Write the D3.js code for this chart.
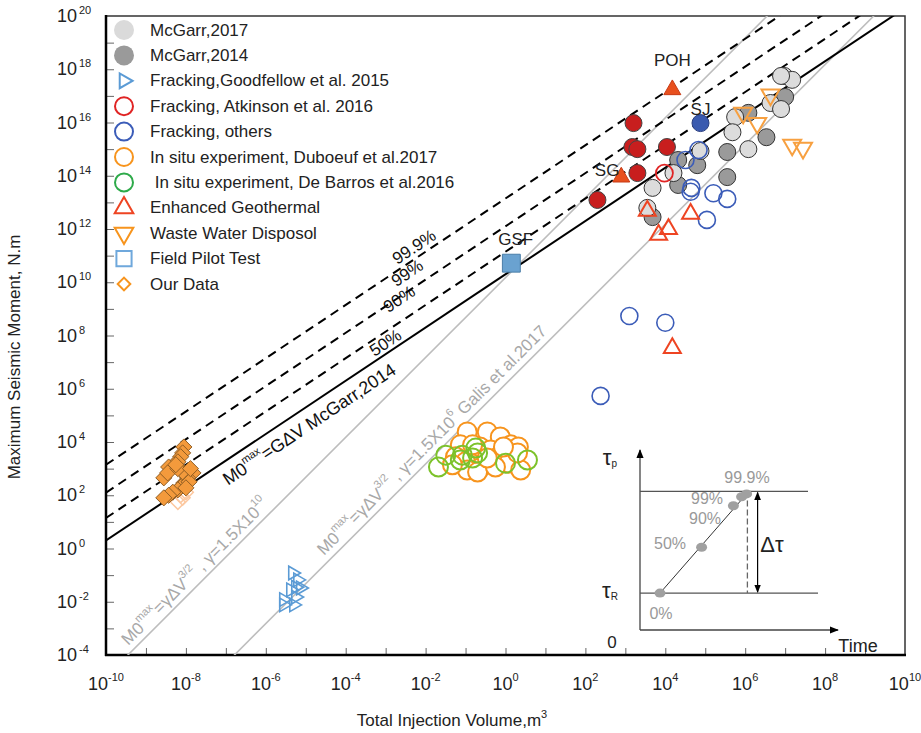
<!DOCTYPE html>
<html>
<head>
<meta charset="utf-8">
<script src="https://cdn.jsdelivr.net/npm/d3@7"></script>
<style>
  body { margin: 0; background: #fff; }
  svg { font-family: "Liberation Sans", Arial, sans-serif; }
</style>
</head>
<body>
<svg id="chart" width="921" height="733"></svg>
<script>
// ---- data: [injection volume m3, max seismic moment N.m] ----
const mcGarr2017 = [[9.5e6, 5.6e17], [1.5e7, 4e17], [7.9e6, 5.6e17], [4.3e6, 5.4e16], [7.9e6, 3.2e16],
  [5.6e5, 1.6e16], [4.8e5, 4.3e15], [1.2e6, 1e15], [7.6e4, 8.5e14], [1.6e4, 1.26e14], [4.8e3, 3.5e13], [3.55e3, 6.2e12]];
const mcGarr2014 = [[1e7, 9.1e16], [1.2e6, 2.3e16], [3.4e6, 2.8e15], [3.55e5, 7.8e14], [3.55e5, 8.9e13],
  [6.3e4, 2.5e14], [2.1e4, 3.9e14], [2.1e4, 4.5e13], [4.8e3, 2.8e12]];
const atkinsonFilled = [[1.6e3, 9.5e15], [1.5e3, 1.2e15], [2e3, 1e15], [1.1e4, 1.2e15], [2e3, 1.26e14], [2e2, 1.23e13]];
const atkinsonOpen = [[9.5e3, 1.26e14]];
const frackingSJ = [[7.6e4, 9.5e15]];
const frackingOthers = [[6.8e4, 9.3e14], [3.2e4, 3.9e14], [4.5e4, 3.5e13], [4.3e4, 2.5e13], [1.6e5, 2.2e13],
  [3.55e5, 1.35e13], [1.1e5, 2.2e12], [1.26e3, 5.4e8], [1e4, 3e8], [2.4e2, 5.4e5]];
const geothermal = [[3.55e3, 4.8e12], [4.3e4, 3.7e12], [1.2e4, 1e12], [6.8e3, 6e11], [1.5e4, 3.4e7]];
const geothermalNamed = [[1.5e4, 1.7e17], [7.9e2, 8.9e13]]; // POH, SG
const wasteWater = [[4.3e6, 1.1e17], [8.9e5, 2.3e16], [2e6, 9.5e15], [1.5e7, 1.45e15], [2.8e7, 1.1e15]];
const fieldPilot = [[1.4, 5.2e10]]; // GSF
const goodfellow = [[4.7e-6, 0.12], [6.3e-6, 0.066], [5.6e-6, 0.035], [4.2e-6, 0.028], [7.4e-6, 0.033],
  [5.6e-6, 0.015], [2.8e-6, 0.012], [5e-6, 7.6e-3], [2.8e-6, 7.6e-3]];
const ourData = [[8.9e-9, 6.5e3], [8.3e-9, 3.9e3], [7.4e-9, 2.8e3], [6.3e-9, 1.8e3], [5e-9, 1.4e3], [3.7e-9, 1.15e3],
  [2.8e-9, 450], [1.5e-8, 690], [1.1e-8, 450], [8.9e-9, 290], [7.4e-9, 200], [6.3e-9, 160], [4.7e-9, 130],
  [3.7e-9, 100], [2.8e-9, 80], [1.2e-8, 320], [1e-8, 190], [8.3e-9, 760], [3.5e-9, 690], [6.3e-9, 1000],
  [1.3e-8, 1000], [5.6e-9, 1400]];
const ourDataFaint = [[7.4e-9, 100], [6.3e-9, 56], [8.3e-9, 80], [1e-8, 130]];
const duboeuf = [[0.11, 24000], [0.35, 24000], [0.74, 15500], [0.074, 7800], [0.23, 6500], [1.35, 7800], [2.1, 6500],
  [0.42, 5000], [0.056, 2800], [0.1, 1800], [0.23, 1050], [0.66, 2800], [1.2, 1600], [2.4, 890], [0.11, 890],
  [0.2, 740], [2.0, 3900], [0.56, 1150], [0.047, 1400], [0.35, 2500], [0.89, 6500], [0.15, 7800]];
const deBarros = [[0.021, 1150], [0.032, 3200], [0.083, 3200], [0.18, 5900], [0.15, 2500], [0.2, 3900],
  [1.0, 1600], [3.55, 2100], [0.074, 2100]];

// fitted lines: M0 = c * V (McGarr) and M0 = gamma * V^1.5 (Galis)
const mcGarrCoef = 2e10;
const percentCoef = [1.4e11, 1.26e12, 1.4e13];
const galisGamma = [1.5e10, 1.5e6];
const percentLabels = [["99.9%", 5.2e-3, 2.1e11], ["99%", 3.5e-3, 2.2e10], ["90%", 2.2e-3, 2.3e9], ["50%", 1e-3, 5.2e7]];
const siteLabels = [["POH", 1.5e4, 2.2e18], ["SJ", 7.6e4, 3e16], ["SG", 3.5e2, 1.6e14], ["GSF", 1.8, 3.9e11]];

const xTickExp = [-10, -9, -8, -7, -6, -5, -4, -3, -2, -1, 0, 1, 2, 3, 4, 5, 6, 7, 8, 9, 10];
const xLabelExp = [-10, -8, -6, -4, -2, 0, 2, 4, 6, 8, 10];
const yTickExp = [-4, -3, -2, -1, 0, 1, 2, 3, 4, 5, 6, 7, 8, 9, 10, 11, 12, 13, 14, 15, 16, 17, 18, 19, 20];
const yLabelExp = [-4, -2, 0, 2, 4, 6, 8, 10, 12, 14, 16, 18, 20];

const legendItems = [
  { name: "McGarr,2017", type: "circle", fill: "#dadada", stroke: "none" },
  { name: "McGarr,2014", type: "circle", fill: "#9a9a9a", stroke: "none" },
  { name: "Fracking,Goodfellow et al. 2015", type: "triRight", fill: "none", stroke: "#5b9bd5" },
  { name: "Fracking, Atkinson et al. 2016", type: "circle", fill: "none", stroke: "#e02424" },
  { name: "Fracking, others", type: "circle", fill: "none", stroke: "#3b5cb8" },
  { name: "In situ experiment, Duboeuf et al.2017", type: "circle", fill: "none", stroke: "#f7941d" },
  { name: " In situ experiment, De Barros et al.2016", type: "circle", fill: "none", stroke: "#2eaa4a" },
  { name: "Enhanced Geothermal", type: "triUp", fill: "none", stroke: "#ee4422" },
  { name: "Waste Water Disposol", type: "triDown", fill: "none", stroke: "#f7941d" },
  { name: "Field Pilot Test", type: "square", fill: "none", stroke: "#6fa8dc" },
  { name: "Our Data", type: "diamond", fill: "none", stroke: "#f7941d" }
];

// inset schematic (0-100 box units)
const insetPct = [["0%", 10, 20.5], ["50%", 30.8, 46], ["90%", 46.7, 69], ["99%", 50.8, 74], ["99.9%", 53.3, 75.6]];
const insetPctText = [[10.5, 9], [15, 48], [32.5, 62], [33.5, 73], [53.5, 85]];
const tauR = 20.5, tauP = 77;

const svg = d3.select("#chart");
svg.append("rect").attr("width", 921).attr("height", 733).attr("fill", "#fff");

const x = d3.scaleLog().domain([1e-10, 1e10]).range([106, 905]);
const y = d3.scaleLog().domain([1e-4, 1e20]).range([655, 16]);

svg.append("defs").append("clipPath").attr("id", "plotclip")
  .append("rect").attr("x", 106).attr("y", 16).attr("width", 799).attr("height", 639);

// frame
svg.append("rect").attr("x", 106).attr("y", 16).attr("width", 799).attr("height", 639)
  .attr("fill", "none").attr("stroke", "#333").attr("stroke-width", 1.5);

// ticks
const xAxis = svg.append("g").attr("transform", "translate(0,655)")
  .call(d3.axisBottom(x).tickValues(xTickExp.map(e => Math.pow(10, e))).tickSizeInner(-7).tickSizeOuter(0).tickFormat(""));
const yAxis = svg.append("g").attr("transform", "translate(106,0)")
  .call(d3.axisLeft(y).tickValues(yTickExp.map(e => Math.pow(10, e))).tickSizeInner(-8).tickSizeOuter(0).tickFormat(""));
xAxis.select(".domain").remove();
yAxis.select(".domain").remove();
svg.selectAll(".tick line").attr("stroke", "#666");

svg.append("line").attr("x1", 106).attr("x2", 106).attr("y1", 15).attr("y2", 656).attr("stroke", "#000").attr("stroke-width", 2.5);
svg.append("line").attr("x1", 105).attr("x2", 906).attr("y1", 655).attr("y2", 655).attr("stroke", "#000").attr("stroke-width", 2.5);

// tick labels
xLabelExp.forEach(e => {
  const t = svg.append("text").attr("x", x(Math.pow(10, e))).attr("y", 690)
    .attr("text-anchor", "middle").attr("font-size", 18).attr("fill", "#222");
  t.append("tspan").text("10");
  t.append("tspan").attr("font-size", 11).attr("dy", -9).text(e);
});
yLabelExp.forEach(e => {
  const yy = y(Math.pow(10, e));
  svg.append("text").attr("x", 77).attr("y", yy + 6).attr("text-anchor", "end")
    .attr("font-size", 18).attr("fill", "#222").text("10");
  svg.append("text").attr("x", 79).attr("y", yy - 2).attr("font-size", 11).attr("fill", "#222").text(e);
});

// axis titles
const xt = svg.append("text").attr("x", 452).attr("y", 726).attr("text-anchor", "middle").attr("font-size", 17).attr("fill", "#222");
xt.append("tspan").text("Total Injection Volume,m");
xt.append("tspan").attr("font-size", 11).attr("dy", -8).text("3");
svg.append("text").attr("transform", "translate(20,357) rotate(-90)").attr("text-anchor", "middle")
  .attr("font-size", 17).attr("fill", "#222").text("Maximum Seismic Moment, N.m");

// reference lines
const plot = svg.append("g").attr("clip-path", "url(#plotclip)");
const vEnds = [1e-10, 1e10];
const line = d3.line().x(d => x(d[0])).y(d => y(d[1]));
galisGamma.forEach(g => {
  plot.append("path").attr("d", line(vEnds.map(v => [v, g * Math.pow(v, 1.5)])))
    .attr("fill", "none").attr("stroke", "#bdbdbd").attr("stroke-width", 1.6);
});
percentCoef.forEach(c => {
  plot.append("path").attr("d", line(vEnds.map(v => [v, c * v])))
    .attr("fill", "none").attr("stroke", "#000").attr("stroke-width", 2).attr("stroke-dasharray", "9,6");
});
plot.append("path").attr("d", line(vEnds.map(v => [v, mcGarrCoef * v])))
  .attr("fill", "none").attr("stroke", "#000").attr("stroke-width", 2);

const ang1 = Math.atan2(y(1e10) - y(1), x(1) - x(1e-10)) * 180 / Math.PI;
const ang15 = Math.atan2(y(1e15) - y(1), x(1) - x(1e-10)) * 180 / Math.PI;

function rotText(v, m, angle, color, size) {
  return svg.append("text")
    .attr("transform", `translate(${x(v)},${y(m)}) rotate(${angle})`)
    .attr("text-anchor", "middle").attr("dominant-baseline", "central")
    .attr("font-size", size).attr("fill", color);
}
percentLabels.forEach(p => rotText(p[1], p[2], ang1, "#111", 17).text(p[0]));

const t1 = rotText(1.23e-5, 4.6e4, ang1, "#111", 18);
t1.append("tspan").text("M0");
t1.append("tspan").attr("font-size", 11).attr("dy", -7).text("max");
t1.append("tspan").attr("dy", 7).text("=GΔV McGarr,2014");

function galisText(v, m, tail) {
  const t = rotText(v, m, ang15, "#a8a8a8", 17);
  t.append("tspan").text("M0");
  t.append("tspan").attr("font-size", 11).attr("dy", -7).text("max");
  t.append("tspan").attr("dy", 7).text("=γΔV");
  t.append("tspan").attr("font-size", 11).attr("dy", -7).text("3/2");
  t.append("tspan").attr("dy", 7).text(" , γ=1.5X10");
  t.append("tspan").attr("font-size", 11).attr("dy", -7).text(tail[0]);
  t.append("tspan").attr("dy", 7).text(tail[1]);
}
galisText(1.66e-8, 0.14, ["10", ""]);
galisText(1.41e-2, 1.2e4, ["6", "   Galis et al.2017"]);

// markers
const pts = svg.append("g").attr("clip-path", "url(#plotclip)");
function circles(data, r, fill, stroke, sw) {
  pts.append("g").selectAll("circle").data(data).join("circle")
    .attr("cx", d => x(d[0])).attr("cy", d => y(d[1])).attr("r", r)
    .attr("fill", fill).attr("stroke", stroke).attr("stroke-width", sw);
}
function symbols(data, type, size, rot, fill, stroke, sw) {
  pts.append("g").selectAll("path").data(data).join("path")
    .attr("d", d3.symbol().type(type).size(size)())
    .attr("transform", d => `translate(${x(d[0])},${y(d[1])}) rotate(${rot})`)
    .attr("fill", fill).attr("stroke", stroke).attr("stroke-width", sw);
}

circles(mcGarr2014, 8.5, "#9a9a9a", "#333", 1);
circles(mcGarr2017, 8.5, "#dcdcdc", "#333", 1);
circles(atkinsonFilled, 8.5, "#c81e1e", "#444", 1);
circles(atkinsonOpen, 8.5, "none", "#e02424", 1.8);
circles(frackingSJ, 8.5, "#3a5aaf", "#2a3f80", 1);
circles(frackingOthers, 8.5, "none", "#3b5cb8", 1.6);
symbols(geothermal, d3.symbolTriangle, 125, 0, "none", "#ee4422", 2);
symbols(geothermalNamed, d3.symbolTriangle, 125, 0, "#e8501e", "#c83a14", 1);
symbols(wasteWater, d3.symbolTriangle, 140, 180, "none", "#f7a040", 2);
symbols(fieldPilot, d3.symbolSquare, 320, 0, "#6aa2d0", "#4a7ea8", 1);
symbols(goodfellow, d3.symbolTriangle, 80, 90, "none", "#5b9bd5", 1.6);
symbols(ourDataFaint, d3.symbolSquare, 110, 45, "none", "#fcc8a0", 1.5);
symbols(ourData, d3.symbolSquare, 130, 45, "#f39a3c", "#8a5a22", 0.9);
circles(duboeuf, 9.5, "#fff", "#f7941d", 2);
circles(deBarros, 9.5, "none", "#7cc22a", 2);

siteLabels.forEach(s => {
  svg.append("text").attr("x", x(s[1])).attr("y", y(s[2])).attr("text-anchor", "middle")
    .attr("dominant-baseline", "central").attr("font-size", 17).attr("fill", "#222").text(s[0]);
});

// legend
const symType = { circle: null, triUp: [d3.symbolTriangle, 0], triDown: [d3.symbolTriangle, 180],
  triRight: [d3.symbolTriangle, 90], square: [d3.symbolSquare, 0], diamond: [d3.symbolSquare, 45] };
const symSize = { triUp: 150, triDown: 150, triRight: 95, square: 230, diamond: 80 };
const legend = svg.append("g");
legendItems.forEach((it, i) => {
  const ly = 30 + i * 25.4;
  if (it.type === "circle") {
    legend.append("circle").attr("cx", 124).attr("cy", ly).attr("r", it.fill === "none" ? 9 : 10)
      .attr("fill", it.fill).attr("stroke", it.stroke).attr("stroke-width", 2);
  } else {
    legend.append("path").attr("d", d3.symbol().type(symType[it.type][0]).size(symSize[it.type])())
      .attr("transform", `translate(124,${ly}) rotate(${symType[it.type][1]})`)
      .attr("fill", it.fill).attr("stroke", it.stroke).attr("stroke-width", 2);
  }
  legend.append("text").attr("x", 150).attr("y", ly).attr("dominant-baseline", "central")
    .attr("font-size", 17).attr("fill", "#222").attr("xml:space", "preserve").text(it.name);
});

// inset schematic
const ix = d3.scaleLinear().domain([0, 100]).range([640, 840]);
const iy = d3.scaleLinear().domain([0, 100]).range([630, 450]);
const defs = svg.select("defs");
defs.append("marker").attr("id", "ah").attr("viewBox", "0 0 10 10").attr("refX", 9).attr("refY", 5)
  .attr("markerWidth", 7).attr("markerHeight", 7).attr("orient", "auto-start-reverse")
  .append("path").attr("d", "M0,1 L10,5 L0,9 Z").attr("fill", "#000");
const inset = svg.append("g");
inset.append("line").attr("x1", ix(0)).attr("y1", iy(0)).attr("x2", ix(0)).attr("y2", iy(100))
  .attr("stroke", "#444").attr("stroke-width", 1.3).attr("marker-end", "url(#ah)");
inset.append("line").attr("x1", ix(0)).attr("y1", iy(0)).attr("x2", ix(99)).attr("y2", iy(0))
  .attr("stroke", "#444").attr("stroke-width", 1.3).attr("marker-end", "url(#ah)");
inset.append("line").attr("x1", ix(0)).attr("y1", iy(tauP)).attr("x2", ix(84)).attr("y2", iy(tauP)).attr("stroke", "#555").attr("stroke-width", 1.3);
inset.append("line").attr("x1", ix(0)).attr("y1", iy(tauR)).attr("x2", ix(89)).attr("y2", iy(tauR)).attr("stroke", "#555").attr("stroke-width", 1.3);
inset.append("line").attr("x1", ix(insetPct[0][1])).attr("y1", iy(insetPct[0][2]))
  .attr("x2", ix(insetPct[4][1])).attr("y2", iy(insetPct[4][2])).attr("stroke", "#333").attr("stroke-width", 1);
inset.append("line").attr("x1", ix(53.7)).attr("y1", iy(tauP)).attr("x2", ix(53.7)).attr("y2", iy(tauR))
  .attr("stroke", "#666").attr("stroke-width", 1.3).attr("stroke-dasharray", "6,3");
inset.append("line").attr("x1", ix(58.8)).attr("y1", iy(tauR) - 1).attr("x2", ix(58.8)).attr("y2", iy(tauP) + 1)
  .attr("stroke", "#000").attr("stroke-width", 1.2).attr("marker-start", "url(#ah)").attr("marker-end", "url(#ah)");
inset.selectAll("ellipse").data(insetPct).join("ellipse")
  .attr("cx", d => ix(d[1])).attr("cy", d => iy(d[2])).attr("rx", 5.5).attr("ry", 4.5).attr("fill", "#a0a0a0");
inset.selectAll("text.pct").data(insetPct).join("text").attr("class", "pct")
  .attr("x", (d, i) => ix(insetPctText[i][0])).attr("y", (d, i) => iy(insetPctText[i][1]))
  .attr("text-anchor", "middle").attr("dominant-baseline", "central")
  .attr("font-size", 16).attr("fill", "#999").text(d => d[0]);
function insetLabel(px, py, main, sub) {
  const t = inset.append("text").attr("x", ix(px)).attr("y", iy(py)).attr("text-anchor", "middle")
    .attr("dominant-baseline", "central").attr("font-size", 22).attr("fill", "#222");
  t.append("tspan").text(main);
  if (sub) t.append("tspan").attr("font-size", 10).attr("dy", 6).text(sub);
}
insetLabel(-15, 96, "τ", "p");
insetLabel(-15, 22, "τ", "R");
insetLabel(66, 48, "Δτ", "");
inset.append("text").attr("x", ix(-14)).attr("y", iy(-7)).attr("text-anchor", "middle").attr("dominant-baseline", "central")
  .attr("font-size", 17).attr("fill", "#222").text("0");
inset.append("text").attr("x", ix(109)).attr("y", iy(-9)).attr("text-anchor", "middle").attr("dominant-baseline", "central")
  .attr("font-size", 18).attr("fill", "#222").text("Time");
</script>
</body>
</html>
